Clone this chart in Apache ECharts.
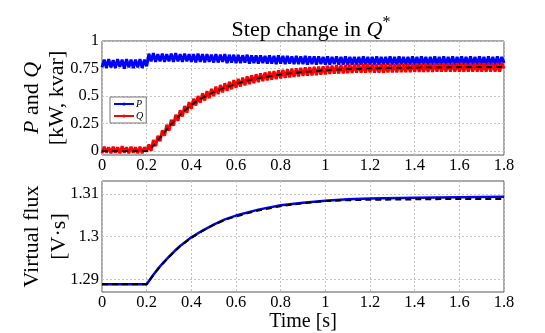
<!DOCTYPE html>
<html><head><meta charset="utf-8">
<script src="https://cdn.jsdelivr.net/npm/echarts@6/dist/echarts.min.js"></script>
<style>html,body{margin:0;padding:0;background:#fff}#c{width:545px;height:333px}</style>
</head><body><div id="c"></div>
<script>
// sampling step of the measured P and Q traces (s)
const sampleStep = 0.01;
const pMeasured = [
0.76,0.83,0.755,0.835,0.76,0.825,0.755,0.835,0.765,0.83,0.75,0.835,0.76,0.83,0.755,0.83,0.76,0.835,0.755,0.83,0.77,
0.885,0.815,0.89,0.81,0.88,0.815,0.885,0.81,0.88,0.815,
0.885,0.81,0.89,0.815,0.88,0.81,0.885,0.815,0.88,0.81,
0.88,0.805,0.885,0.81,0.88,0.805,0.88,0.81,0.875,0.805,0.88,0.805,0.875,0.81,0.88,0.8,0.875,0.805,0.875,0.8,
0.875,0.8,0.87,0.805,0.875,0.795,0.87,0.8,0.87,0.795,0.87,0.8,0.865,0.795,0.87,0.795,0.865,0.79,0.87,0.795,
0.865,0.79,0.865,0.795,0.86,0.79,0.865,0.79,0.86,0.79,0.865,0.785,0.86,0.79,0.86,0.785,0.86,0.79,0.855,0.785,
0.86,0.785,0.855,0.79,0.86,0.785,0.855,0.785,0.86,0.78,0.855,0.785,0.855,0.78,0.855,0.785,0.86,0.78,0.855,0.785,
0.855,0.78,0.86,0.785,0.855,0.78,0.855,0.785,0.86,0.78,0.855,0.78,0.86,0.785,0.855,0.78,0.855,0.785,0.86,0.78,
0.855,0.78,0.86,0.785,0.855,0.78,0.855,0.78,0.86,0.785,0.855,0.78,0.86,0.78,0.855,0.785,0.86,0.78,0.855,0.78,
0.86,0.785,0.855,0.78,0.86,0.78,0.855,0.785,0.86,0.78,0.855,0.78,0.86,0.785,0.855,0.78,0.86,0.78,0.855,0.8
];
const qMeasured = [
-0.02,0.04,-0.015,0.035,-0.02,0.04,-0.015,0.035,-0.02,0.045,-0.015,0.035,-0.02,0.04,-0.015,0.035,-0.02,0.04,-0.02,0.035,-0.005,
0.06,0.005,0.10,0.045,0.14,0.09,0.19,0.14,0.24,0.185,
0.285,0.23,0.33,0.275,0.37,0.315,0.41,0.35,0.445,0.385,
0.475,0.415,0.50,0.44,0.525,0.46,0.545,0.48,0.565,0.50,
0.585,0.518,0.60,0.533,0.616,0.548,0.63,0.562,0.644,0.575,
0.656,0.587,0.668,0.598,0.679,0.609,0.689,0.618,0.698,0.627,
0.706,0.635,0.714,0.642,0.721,0.649,0.727,0.655,0.733,0.661,
0.738,0.666,0.742,0.67,0.748,0.675,0.752,0.679,0.756,0.683,0.76,0.686,0.763,0.689,0.765,0.691,0.768,0.694,0.77,0.697,
0.775,0.701,0.777,0.703,0.78,0.705,0.782,0.707,0.784,0.709,0.785,0.71,0.787,0.712,0.788,0.713,0.79,0.714,0.791,0.716,
0.787,0.712,0.788,0.713,0.789,0.714,0.79,0.715,0.791,0.716,0.791,0.716,0.792,0.717,0.793,0.717,0.793,0.718,0.794,0.719,
0.795,0.719,0.795,0.72,0.796,0.72,0.796,0.72,0.797,0.721,0.797,0.721,0.797,0.721,0.797,0.722,0.798,0.722,0.798,0.722,
0.798,0.722,0.799,0.723,0.799,0.723,0.799,0.723,0.799,0.723,0.8,0.723,0.8,0.723,0.8,0.723,0.8,0.723,0.8,0.75
];
const refTime = [0,0.2,0.25,0.3,0.35,0.4,0.45,0.5,0.55,0.6,0.65,0.7,0.75,0.8,0.9,1.0,1.1,1.2,1.4,1.6,1.8];
const qReference = [0,0,0.10,0.22,0.33,0.42,0.485,0.535,0.576,0.61,0.639,0.662,0.68,0.696,0.718,0.734,0.744,0.751,0.759,0.762,0.764];
const fluxTime = [0,0.2,0.225,0.25,0.275,0.3,0.325,0.35,0.4,0.45,0.5,0.55,0.6,0.7,0.8,0.9,1.0,1.1,1.2,1.4,1.6,1.8];
const fluxMeasured = [1.2888,1.2888,1.2907,1.2924,1.2939,1.2953,1.2966,1.2978,1.2998,1.3014,1.3028,1.3040,1.3049,1.3063,1.3073,1.3079,1.3084,1.3087,1.3089,1.3091,1.3092,1.3093];
const fluxReference = [1.2888,1.2888,1.2906,1.2923,1.2938,1.2952,1.2965,1.2977,1.2997,1.3013,1.3027,1.3039,1.3047,1.3061,1.3071,1.3078,1.3083,1.3085,1.3086,1.3087,1.3088,1.3088];
const xTicks = [0,0.2,0.4,0.6,0.8,1,1.2,1.4,1.6,1.8];
const pqTicks = [0,0.25,0.5,0.75,1];
const fluxTicks = [1.29,1.3,1.31];

const sampleTimes = pMeasured.map((_, i) => +(i * sampleStep).toFixed(2));
const pair = (xs, ys) => ys.map((y, i) => [xs[i], y]);

const SERIF = 'Liberation Serif';
const lbl = {color:'#000', fontFamily:SERIF, fontSize:16.5};
const split = {show:true, lineStyle:{color:'#c4c4c4', type:[2,2], width:1}};

const chart = echarts.init(document.getElementById('c'), null, {renderer:'canvas'});
chart.setOption({
  animation:false,
  backgroundColor:'#fff',
  title:{
    text:'Step change in {q|Q}{s|*}', left:306, textAlign:'center', top:10,
    textStyle:{fontFamily:SERIF, fontSize:22, fontWeight:'normal', color:'#000',
      rich:{q:{fontFamily:SERIF, fontSize:22, fontStyle:'italic', color:'#000'},
            s:{fontFamily:SERIF, fontSize:16, color:'#000', verticalAlign:'bottom', padding:[0,0,14,0]}}}
  },
  legend:{
    data:['P','Q'], orient:'vertical', left:110, top:97, itemWidth:20, itemHeight:4, itemGap:2,
    padding:[2,3,2,3], borderColor:'#777', borderWidth:1, backgroundColor:'#fff',
    textStyle:{fontFamily:SERIF, fontSize:10, fontStyle:'italic', color:'#000', padding:[0,0,0,-3]}
  },
  grid:[
    {left:102, right:41, top:41, height:114, show:true, borderColor:'#555', borderWidth:1},
    {left:102, right:41, top:181, height:115, show:true, borderColor:'#555', borderWidth:1}
  ],
  xAxis:[
    {type:'value', gridIndex:0, min:0, max:1.8, interval:0.2, axisLine:{show:false}, axisTick:{show:false},
     axisLabel:Object.assign({margin:2, customValues:xTicks}, lbl), splitLine:split},
    {type:'value', gridIndex:1, min:0, max:1.8, interval:0.2, axisLine:{show:false}, axisTick:{show:false},
     axisLabel:Object.assign({margin:2, customValues:xTicks}, lbl), splitLine:split,
     name:'Time [s]', nameLocation:'middle', nameGap:20, nameMoveOverlap:false,
     nameTextStyle:{fontFamily:SERIF, fontSize:20, color:'#000'}}
  ],
  yAxis:[
    {type:'value', gridIndex:0, min:-0.035, max:1, axisLine:{show:false},
     axisTick:{show:false, customValues:pqTicks},
     axisLabel:Object.assign({margin:3, customValues:pqTicks}, lbl), splitLine:split,
     name:'{i|P} and {i|Q}\n[kW, kvar]', nameLocation:'middle', nameRotate:90, nameGap:32, nameMoveOverlap:false,
     nameTextStyle:{fontFamily:SERIF, fontSize:22, color:'#000', lineHeight:25, align:'center',
       rich:{i:{fontFamily:SERIF, fontSize:22, fontStyle:'italic', color:'#000'}}}},
    {type:'value', gridIndex:1, min:1.287, max:1.313, axisLine:{show:false},
     axisTick:{show:false, customValues:fluxTicks},
     axisLabel:Object.assign({margin:3, customValues:fluxTicks}, lbl), splitLine:split,
     name:'Virtual flux\n[V·s]', nameLocation:'middle', nameRotate:90, nameGap:29, nameMoveOverlap:false,
     nameTextStyle:{fontFamily:SERIF, fontSize:22, color:'#000', lineHeight:27, align:'center'}}
  ],
  series:[
    {name:'P', type:'line', xAxisIndex:0, yAxisIndex:0, symbol:'none', data:pair(sampleTimes,pMeasured),
     lineStyle:{color:'#0000ff', width:3}, itemStyle:{color:'#0000ff'}},
    {name:'Q', type:'line', xAxisIndex:0, yAxisIndex:0, symbol:'none', data:pair(sampleTimes,qMeasured),
     lineStyle:{color:'#ff0000', width:3}, itemStyle:{color:'#ff0000'}},
    {name:'Qref', type:'line', xAxisIndex:0, yAxisIndex:0, symbol:'none', smooth:0.2, data:pair(refTime,qReference),
     lineStyle:{color:'#000', width:1.8, type:[6,4]}},
    {name:'flux', type:'line', xAxisIndex:1, yAxisIndex:1, symbol:'none', data:pair(fluxTime,fluxMeasured),
     lineStyle:{color:'#0000ff', width:2.5}},
    {name:'fluxref', type:'line', xAxisIndex:1, yAxisIndex:1, symbol:'none', data:pair(fluxTime,fluxReference),
     lineStyle:{color:'#000', width:2, type:[6,4]}}
  ]
});
</script></body></html>
